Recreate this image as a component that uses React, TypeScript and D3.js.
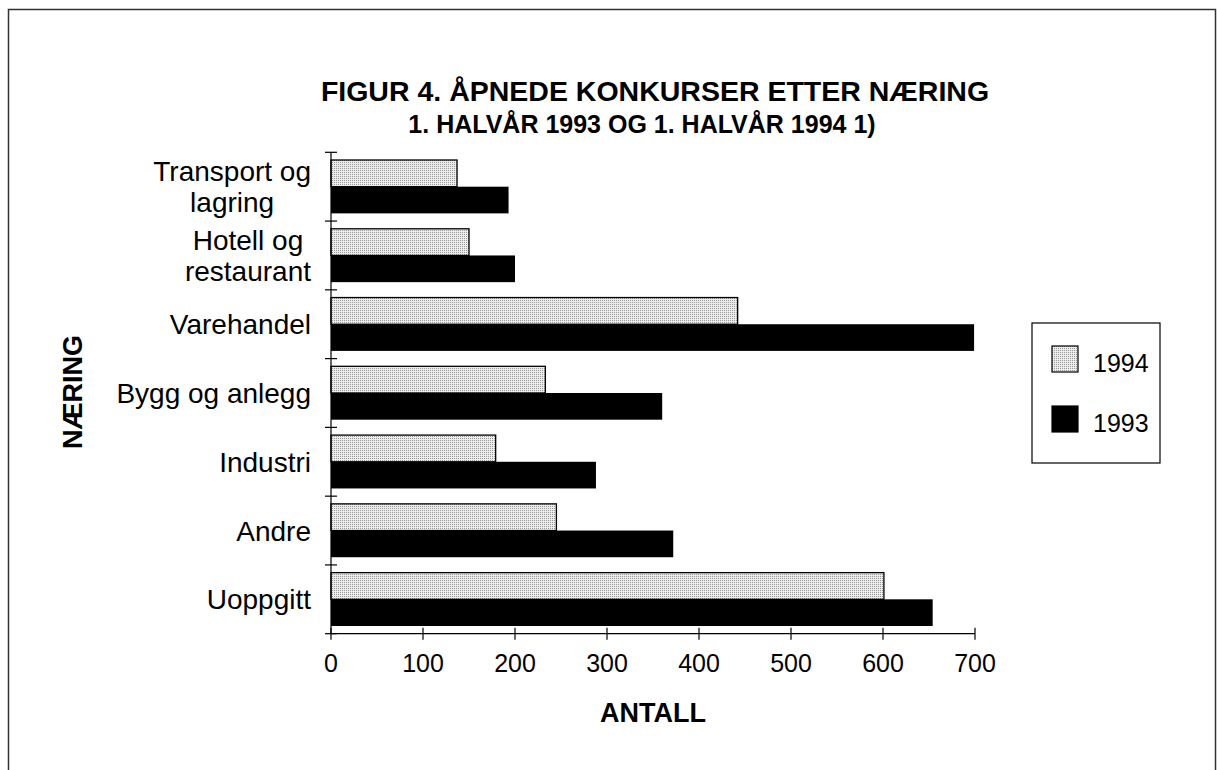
import React, { useEffect, useRef } from "react";
import * as d3 from "d3";

// data
const categories = ["Transport og\nlagring", "Hotell og\nrestaurant", "Varehandel", "Bygg og anlegg", "Industri", "Andre", "Uoppgitt"];
const series = ["1994", "1993"];
const values1994 = [137, 150, 442, 233, 179, 245, 601];
const values1993 = [193, 200, 699, 360, 288, 372, 654];
const xTicks = [0, 100, 200, 300, 400, 500, 600, 700];

const FONT = "'Liberation Sans', Arial, sans-serif";

const App = () => {
  const ref = useRef<SVGSVGElement | null>(null);

  useEffect(() => {
    if (!ref.current) return;
    const svg = d3.select(ref.current);
    svg.selectAll("*").remove();

    const W = 1217;
    const H = 770;
    const left = 331, right = 975, top = 152.3, bottom = 633.7;

    svg.append("rect").attr("width", W).attr("height", H).attr("fill", "#fff");

    const defs = svg.append("defs");
    const pat = defs
      .append("pattern")
      .attr("id", "dots")
      .attr("width", 2)
      .attr("height", 2)
      .attr("patternUnits", "userSpaceOnUse");
    pat.append("rect").attr("width", 2).attr("height", 2).attr("fill", "#ececec");
    pat.append("rect").attr("width", 1).attr("height", 1).attr("fill", "#9a9a9a");

    // outer frame
    svg
      .append("rect")
      .attr("x", 8.5)
      .attr("y", 9.5)
      .attr("width", 1207)
      .attr("height", 800)
      .attr("fill", "none")
      .attr("stroke", "#333")
      .attr("stroke-width", 1.5);

    const x = d3.scaleLinear().domain([0, 700]).range([left, right]);
    const y = d3
      .scaleBand()
      .domain(categories)
      .range([top, bottom])
      .paddingInner(0.224)
      .paddingOuter(0.112);
    const ys = d3.scaleBand().domain(series).range([0, y.bandwidth()]);
    const color = d3.scaleOrdinal<string, string>().domain(series).range(["url(#dots)", "#000"]);

    const rows = categories.map((c, i) => ({ c, v: { "1994": values1994[i], "1993": values1993[i] } as Record<string, number> }));

    const g = svg.append("g");
    rows.forEach((r) => {
      series.forEach((s) => {
        g.append("rect")
          .attr("x", x(0))
          .attr("y", (y(r.c) as number) + (ys(s) as number))
          .attr("width", x(r.v[s]) - x(0))
          .attr("height", ys.bandwidth())
          .attr("fill", color(s))
          .attr("stroke", "#000")
          .attr("stroke-width", s === "1994" ? 1.3 : 0);
      });
    });

    // y axis
    svg.append("line").attr("x1", left).attr("x2", left).attr("y1", top).attr("y2", bottom).attr("stroke", "#000").attr("stroke-width", 1.2);
    d3.range(categories.length + 1).forEach((i) => {
      const yy = top + i * y.step();
      svg.append("line").attr("x1", left - 6).attr("x2", left + 6).attr("y1", yy).attr("y2", yy).attr("stroke", "#000").attr("stroke-width", 1.2);
    });

    // x axis
    svg.append("line").attr("x1", left).attr("x2", right).attr("y1", bottom).attr("y2", bottom).attr("stroke", "#000").attr("stroke-width", 1.2);
    xTicks.forEach((t) => {
      svg.append("line").attr("x1", x(t)).attr("x2", x(t)).attr("y1", bottom - 6).attr("y2", bottom + 6).attr("stroke", "#000").attr("stroke-width", 1.2);
      svg
        .append("text")
        .attr("x", x(t))
        .attr("y", 672)
        .attr("text-anchor", "middle")
        .style("font-family", FONT)
        .style("font-size", "25px")
        .text(t);
    });

    // category labels: lines centred on each other, block right-aligned
    categories.forEach((c) => {
      const lines = c.split("\n");
      const cy = (y(c) as number) + y.bandwidth() / 2;
      const t = svg
        .append("text")
        .style("font-family", FONT)
        .style("font-size", "28px")
        .attr("text-anchor", "middle");
      const spans = lines.map((ln, k) =>
        t
          .append("tspan")
          .attr("y", cy + 10 + (k - (lines.length - 1) / 2) * 31)
          .text(ln)
      );
      const maxW = d3.max(spans, (sp) => (sp.node() as SVGTSpanElement).getComputedTextLength()) || 0;
      spans.forEach((sp) => sp.attr("x", 311 - maxW / 2));
    });

    // titles
    svg
      .append("text")
      .attr("x", 655)
      .attr("y", 101)
      .attr("text-anchor", "middle")
      .style("font-family", FONT)
      .style("font-weight", "bold")
      .style("font-size", "28.5px")
      .text("FIGUR 4. ÅPNEDE KONKURSER ETTER NÆRING");
    svg
      .append("text")
      .attr("x", 642)
      .attr("y", 133)
      .attr("text-anchor", "middle")
      .style("font-family", FONT)
      .style("font-weight", "bold")
      .style("font-size", "25px")
      .text("1. HALVÅR 1993 OG 1. HALVÅR 1994 1)");

    svg
      .append("text")
      .attr("x", 653)
      .attr("y", 722)
      .attr("text-anchor", "middle")
      .style("font-family", FONT)
      .style("font-weight", "bold")
      .style("font-size", "27px")
      .text("ANTALL");

    svg
      .append("text")
      .attr("transform", "translate(82,392) rotate(-90)")
      .attr("text-anchor", "middle")
      .style("font-family", FONT)
      .style("font-weight", "bold")
      .style("font-size", "27px")
      .text("NÆRING");

    // legend
    const lg = svg.append("g");
    lg.append("rect")
      .attr("x", 1032)
      .attr("y", 323)
      .attr("width", 128)
      .attr("height", 140)
      .attr("fill", "#fff")
      .attr("stroke", "#000")
      .attr("stroke-width", 1.2);
    series.forEach((s, i) => {
      lg.append("rect")
        .attr("x", 1052)
        .attr("y", 346 + i * 60)
        .attr("width", 26)
        .attr("height", 26)
        .attr("fill", color(s))
        .attr("stroke", "#000")
        .attr("stroke-width", 1.2);
      lg.append("text")
        .attr("x", 1093)
        .attr("y", 372 + i * 60)
        .style("font-family", FONT)
        .style("font-size", "25px")
        .text(s);
    });
  }, []);

  return (
    <svg
      ref={ref}
      width={1217}
      height={770}
      style={{ position: "fixed", top: 0, left: 0, display: "block" }}
    />
  );
};

export default App;
